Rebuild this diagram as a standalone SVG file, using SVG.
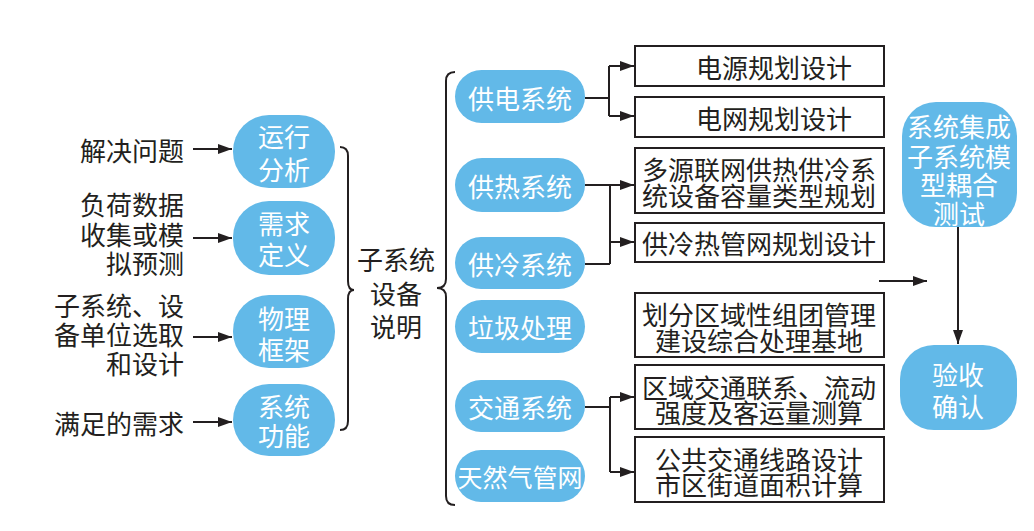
<svg xmlns="http://www.w3.org/2000/svg" width="1034" height="531" viewBox="0 0 1034 531">
<defs>
<marker id="ah" viewBox="0 0 14 10" refX="14" refY="5" markerWidth="14" markerHeight="10" markerUnits="userSpaceOnUse" orient="auto">
<path d="M0,0 L14,5 L0,10 Z" fill="#231f20"/>
</marker>
<style>
.t{font-family:"Noto Sans CJK SC","Noto Sans",sans-serif;font-size:26px;fill:#231f20;dominant-baseline:central}
.w{font-family:"Noto Sans CJK SC","Noto Sans",sans-serif;font-size:26px;fill:#ffffff;dominant-baseline:central;text-anchor:middle}
.e{text-anchor:end}
.m{text-anchor:middle}
.n{fill:#62b9e8}
.b{fill:#ffffff;stroke:#231f20;stroke-width:2}
.c{fill:none;stroke:#231f20;stroke-width:2}
.a{fill:none;stroke:#231f20;stroke-width:2;marker-end:url(#ah)}
</style>
</defs>
<rect width="1034" height="531" fill="#ffffff"/>

<g id="labels-left">
<text class="t e" x="184" y="149">解决问题</text>
<text class="t e" x="184" y="203">负荷数据</text>
<text class="t e" x="184" y="233">收集或模</text>
<text class="t e" x="184" y="262">拟预测</text>
<text class="t e" x="184" y="304">子系统、设</text>
<text class="t e" x="184" y="333">备单位选取</text>
<text class="t e" x="184" y="362">和设计</text>
<text class="t e" x="184" y="422">满足的需求</text>
</g>

<g id="n-yunxing"><rect class="n" x="233" y="115" width="102" height="73" rx="36"/><text class="w" x="284" y="135">运行</text><text class="w" x="284" y="168">分析</text></g>
<g id="n-xuqiu"><rect class="n" x="233" y="201" width="102" height="74" rx="36"/><text class="w" x="284" y="222">需求</text><text class="w" x="284" y="253">定义</text></g>
<g id="n-wuli"><rect class="n" x="233" y="295" width="102" height="73" rx="36"/><text class="w" x="284" y="317">物理</text><text class="w" x="284" y="348">框架</text></g>
<g id="n-xitong"><rect class="n" x="233" y="384" width="102" height="72" rx="36"/><text class="w" x="284" y="405">系统</text><text class="w" x="284" y="434">功能</text></g>

<g id="n-zixitong">
<text class="t m" x="396" y="258">子系统</text>
<text class="t m" x="396" y="292">设备</text>
<text class="t m" x="396" y="325">说明</text>
</g>

<g id="n-gongdian"><rect class="n" x="455" y="70" width="130" height="53" rx="26.5"/><text class="w" x="520" y="97">供电系统</text></g>
<g id="n-gongre"><rect class="n" x="455" y="158" width="130" height="54" rx="27"/><text class="w" x="520" y="185">供热系统</text></g>
<g id="n-gongleng"><rect class="n" x="455" y="237" width="130" height="52" rx="26"/><text class="w" x="520" y="263">供冷系统</text></g>
<g id="n-laji"><rect class="n" x="455" y="300" width="130" height="53" rx="26.5"/><text class="w" x="520" y="326">垃圾处理</text></g>
<g id="n-jiaotong"><rect class="n" x="455" y="380" width="130" height="52" rx="26"/><text class="w" x="520" y="406">交通系统</text></g>
<g id="n-tianranqi"><rect class="n" x="455" y="450" width="130" height="52" rx="26"/><text class="w" x="520" y="476" style="font-size:25px">天然气管网</text></g>

<g id="b-dianyuan"><rect class="b" x="635" y="46" width="249" height="40"/><text class="t m" x="774" y="66">电源规划设计</text></g>
<g id="b-dianwang"><rect class="b" x="635" y="97" width="249" height="40"/><text class="t m" x="774" y="117">电网规划设计</text></g>
<g id="b-duoyuan"><rect class="b" x="635" y="148" width="249" height="65"/><text class="t m" x="759" y="168">多源联网供热供冷系</text><text class="t m" x="759" y="194">统设备容量类型规划</text></g>
<g id="b-guanwang"><rect class="b" x="635" y="223" width="249" height="39"/><text class="t m" x="759" y="242">供冷热管网规划设计</text></g>
<g id="b-huafen"><rect class="b" x="635" y="293" width="249" height="64"/><text class="t m" x="759" y="313">划分区域性组团管理</text><text class="t m" x="759" y="339">建设综合处理基地</text></g>
<g id="b-quyu"><rect class="b" x="635" y="365" width="249" height="64"/><text class="t m" x="759" y="386">区域交通联系、流动</text><text class="t m" x="759" y="411">强度及客运量测算</text></g>
<g id="b-gonggong"><rect class="b" x="635" y="437" width="249" height="65"/><text class="t m" x="759" y="458">公共交通线路设计</text><text class="t m" x="759" y="483">市区街道面积计算</text></g>

<g id="n-jicheng"><rect class="n" x="902" y="102" width="115" height="125" rx="34"/>
<text class="w" x="959" y="125">系统集成</text><text class="w" x="959" y="155">子系统模</text><text class="w" x="959" y="183">型耦合</text><text class="w" x="959" y="212">测试</text></g>
<g id="n-yanshou"><rect class="n" x="900" y="345" width="117" height="85" rx="34"/><text class="w" x="958" y="373">验收</text><text class="w" x="958" y="405">确认</text></g>

<g id="connectors">
<line class="a" x1="193" y1="149" x2="232" y2="149"/>
<line class="a" x1="193" y1="238" x2="232" y2="238"/>
<line class="a" x1="193" y1="337" x2="232" y2="337"/>
<line class="a" x1="193" y1="422" x2="232" y2="422"/>
<path class="c" d="M340,147 Q348,147 348,156 L348,281 Q348,290 354,290 Q348,290 348,299 L348,421 Q348,430 340,430"/>
<path class="c" d="M455,72 Q446,72 446,81 L446,279 Q446,288 437,288 Q446,288 446,297 L446,496 Q446,505 455,505"/>
<path class="c" d="M585,98 L609,98 M609,66 L609,116"/>
<line class="a" x1="609" y1="66" x2="634" y2="66"/>
<line class="a" x1="609" y1="116" x2="634" y2="116"/>
<path class="c" d="M585,185 L610,185 M585,264 L610,264 M610,185 L610,264"/>
<line class="a" x1="610" y1="185" x2="634" y2="185"/>
<line class="a" x1="610" y1="242" x2="634" y2="242"/>
<path class="c" d="M585,407 L610,407 M610,397 L610,472"/>
<line class="a" x1="610" y1="397" x2="634" y2="397"/>
<line class="a" x1="610" y1="472" x2="634" y2="472"/>
<line class="a" x1="879" y1="281" x2="927" y2="281"/>
<line class="a" x1="958" y1="227" x2="958" y2="344"/>
</g>
</svg>
